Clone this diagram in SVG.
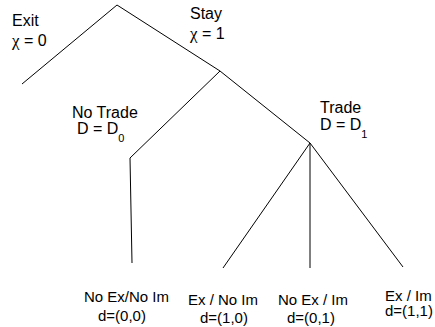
<svg xmlns="http://www.w3.org/2000/svg" width="435" height="327" viewBox="0 0 435 327">
<style>
.e{stroke:#000;stroke-width:1;fill:none}
text{font-family:"Liberation Sans",Arial,sans-serif;fill:#000}
.h{font-size:16px}
.b{font-size:15px}
.s{font-size:11px}
.g{font-family:"Liberation Serif","Times New Roman",serif;font-size:17px}
</style>
<rect width="435" height="327" fill="#fff"/>
<g id="connectors">
<line class="e" x1="117" y1="5" x2="22" y2="84"/>
<line class="e" x1="117" y1="5" x2="220" y2="71"/>
<line class="e" x1="220" y1="71" x2="130" y2="158"/>
<line class="e" x1="220" y1="71" x2="310" y2="143"/>
<line class="e" x1="130" y1="158" x2="132" y2="263"/>
<line class="e" x1="310" y1="143" x2="223" y2="268"/>
<line class="e" x1="310" y1="143" x2="310" y2="268"/>
<line class="e" x1="310" y1="143" x2="403" y2="267"/>
</g>
<g id="exit">
<text class="h" x="12" y="26">Exit</text>
<text class="h" x="12" y="45.5"><tspan class="g">χ</tspan> = 0</text>
</g>
<g id="stay">
<text class="h" x="190" y="18.5">Stay</text>
<text class="h" x="190" y="39"><tspan class="g">χ</tspan> = 1</text>
</g>
<g id="notrade">
<text class="h" x="72" y="118">No Trade</text>
<text class="h" x="77" y="134">D = D<tspan class="s" dy="8">0</tspan></text>
</g>
<g id="trade">
<text class="h" x="320" y="113">Trade</text>
<text class="h" x="320" y="130">D = D<tspan class="s" dy="8">1</tspan></text>
</g>
<g id="leaf00">
<text class="b" x="84" y="301.5">No Ex/No Im</text>
<text class="b" x="98" y="321">d=(0,0)</text>
</g>
<g id="leaf10">
<text class="b" x="188" y="305">Ex / No Im</text>
<text class="b" x="200" y="322.5">d=(1,0)</text>
</g>
<g id="leaf01">
<text class="b" x="278" y="305">No Ex / Im</text>
<text class="b" x="287" y="322.5">d=(0,1)</text>
</g>
<g id="leaf11">
<text class="b" x="385" y="300.5">Ex / Im</text>
<text class="b" x="385" y="316">d=(1,1)</text>
</g>
</svg>
